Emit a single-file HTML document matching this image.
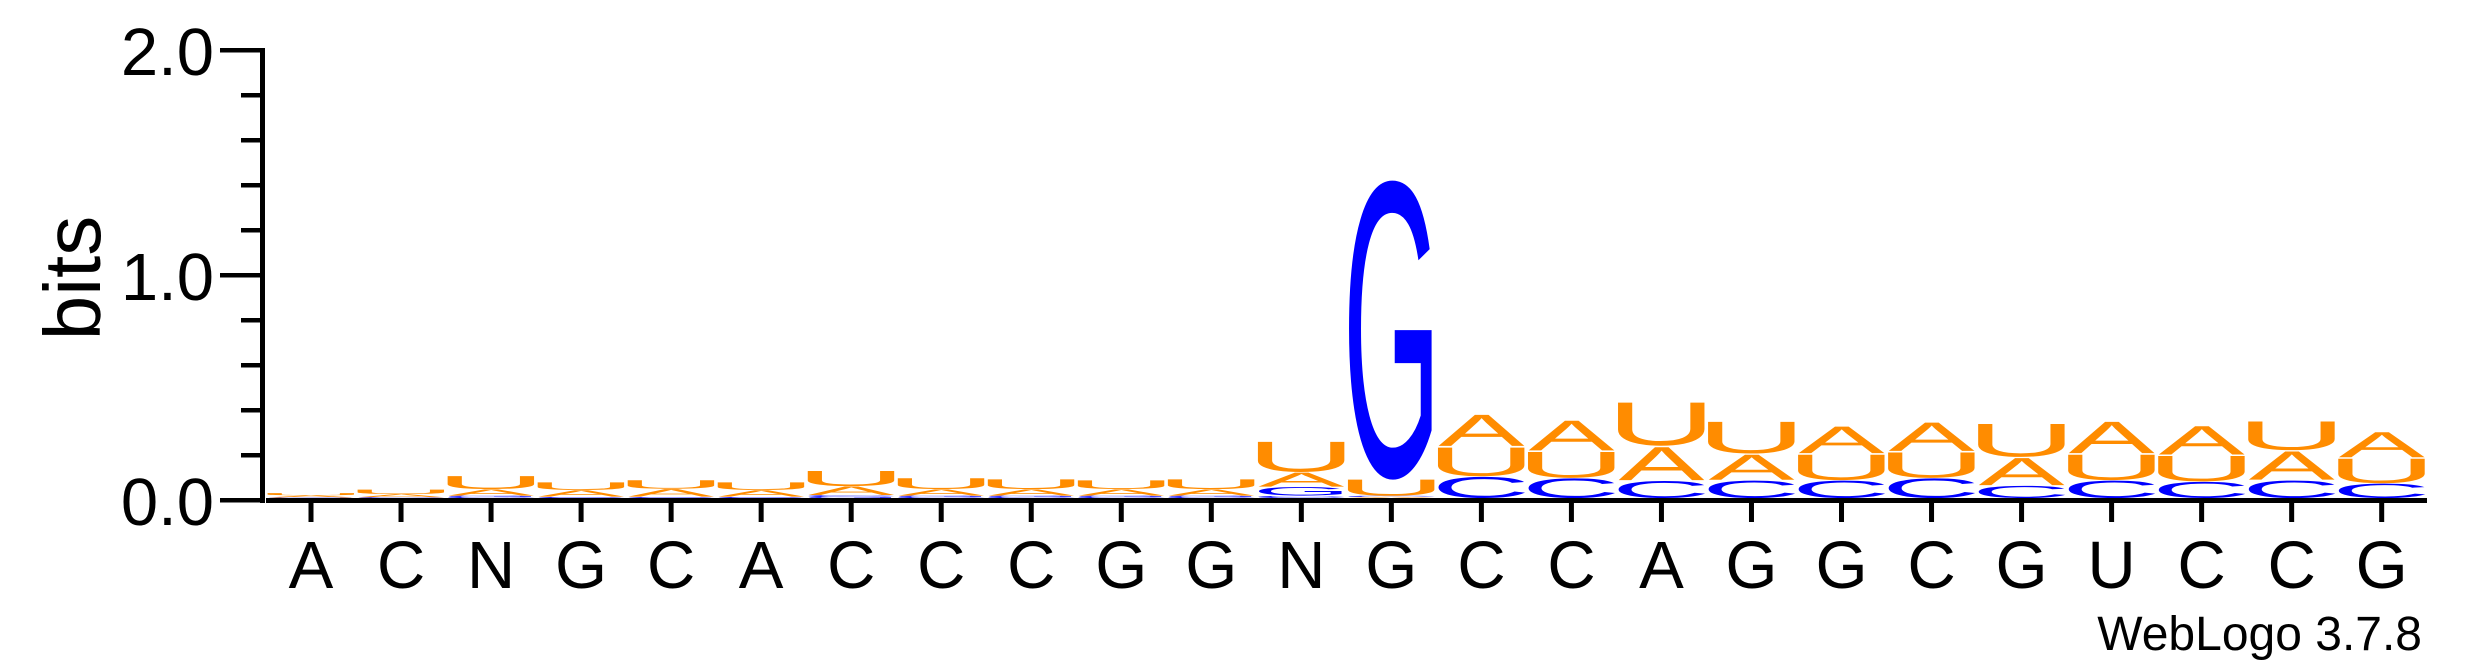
<!DOCTYPE html>
<html><head><meta charset="utf-8">
<style>html,body{margin:0;padding:0;background:#fff}svg{display:block}text{font-family:"Liberation Sans",Arial,sans-serif}</style>
</head><body>
<svg id="logo" width="2475" height="667" viewBox="0 0 2475 667" xmlns="http://www.w3.org/2000/svg">
<g id="axes"></g>
<g id="stacks"></g>
<text transform="translate(100,278) rotate(-90)" text-anchor="middle" font-size="80">bits</text>
<text x="2422" y="650" text-anchor="end" font-size="48">WebLogo 3.7.8</text>
</svg>
<script>
const categories = ["A","C","N","G","C","A","C","C","C","G","G","N","G","C","C","A","G","G","C","G","U","C","C","G"];
const bitsA = [0.01,0.015,0.03,0.03,0.035,0.03,0.04,0.03,0.03,0.03,0.03,0.066,0.005,0.146,0.14,0.155,0.118,0.125,0.133,0.127,0.147,0.133,0.133,0.118];
const bitsC = [0.0,0.003,0.005,0.003,0.003,0.003,0.008,0.005,0.005,0.005,0.005,0.01,0.005,0.097,0.09,0.078,0.08,0.08,0.09,0.056,0.08,0.074,0.08,0.066];
const bitsG = [0.002,0.0,0.005,0.003,0.003,0.003,0.005,0.005,0.005,0.005,0.005,0.04,1.37,0.0,0.0,0.0,0.0,0.0,0.0,0.0,0.0,0.0,0.0,0.0];
const bitsU = [0.01,0.02,0.06,0.035,0.04,0.035,0.07,0.05,0.045,0.04,0.045,0.14,0.075,0.133,0.12,0.2,0.147,0.118,0.118,0.153,0.118,0.118,0.133,0.114];
const yTicks = [0,0.2,0.4,0.6,0.8,1.0,1.2,1.4,1.6,1.8,2.0];
const yTickLabels = {"0":"0.0","1":"1.0","2":"2.0"};

const NS="http://www.w3.org/2000/svg";
const X0=311, DX=90.03, PXB=225, Y0=500, LB=498, LW=86;
const xPos=i=>X0+i*DX;
const yPos=v=>Y0-v*PXB;
const yLet=v=>LB-v*PXB;
const colors={A:"#FF8C00",U:"#FF8C00",C:"#0000FF",G:"#0000FF"};
const glyph={A:{l:0,w:66.6},C:{l:5,w:63},G:{l:4.5,w:68},U:{l:8,w:56.5}};
const axes=document.getElementById('axes'), stacks=document.getElementById('stacks');
function mk(t,a,p){const e=document.createElementNS(NS,t);for(const k in a)e.setAttribute(k,a[k]);p.appendChild(e);return e;}

const ya=mk('rect',{x:260,y:yPos(2)-2,width:5,height:Y0-yPos(2)+5,fill:'#000'},axes);


const xa=mk('rect',{x:266,y:498,width:2427-266,height:5,fill:'#000'},axes);


yTicks.forEach(v=>{
  const major=Math.abs(v-Math.round(v))<1e-9;
  const t=mk('rect',{x:major?220:241,y:yPos(v)-2,width:major?42:21,height:4.5,fill:'#000'},axes);
  
  
  if(major){
    const l=mk('text',{x:214,y:yPos(v)+25,'text-anchor':'end','font-size':67},axes);
    
    
    l.textContent=yTickLabels[String(Math.round(v))];
  }
});
categories.forEach((c,i)=>{
  const t=mk('rect',{x:xPos(i)-2.5,y:503,width:5,height:19,fill:'#000'},axes);
  
  
  const l=mk('text',{x:xPos(i),y:588,'text-anchor':'middle','font-size':67},axes);
  
  
  l.textContent=c;
});

categories.forEach((c,i)=>{
  const items=[["A",bitsA[i]],["C",bitsC[i]],["G",bitsG[i]],["U",bitsU[i]]].filter(d=>d[1]>0).sort((a,b)=>a[1]-b[1]);
  let acc=0;
  const g=mk('g',{},stacks);
  
  
  items.forEach(([L,h])=>{
    const gl=glyph[L];
    const bottom=yLet(acc), hp=h*PXB;
    const sx=LW/gl.w, sy=hp/73;
    const t=mk('text',{x:-gl.l,y:-0.8,'font-size':100,fill:colors[L],
      transform:`translate(${xPos(i)-LW/2},${bottom}) scale(${sx},${sy})`},g);
    
    
    t.textContent=L;
    acc+=h;
  });
});
</script>
</body></html>
